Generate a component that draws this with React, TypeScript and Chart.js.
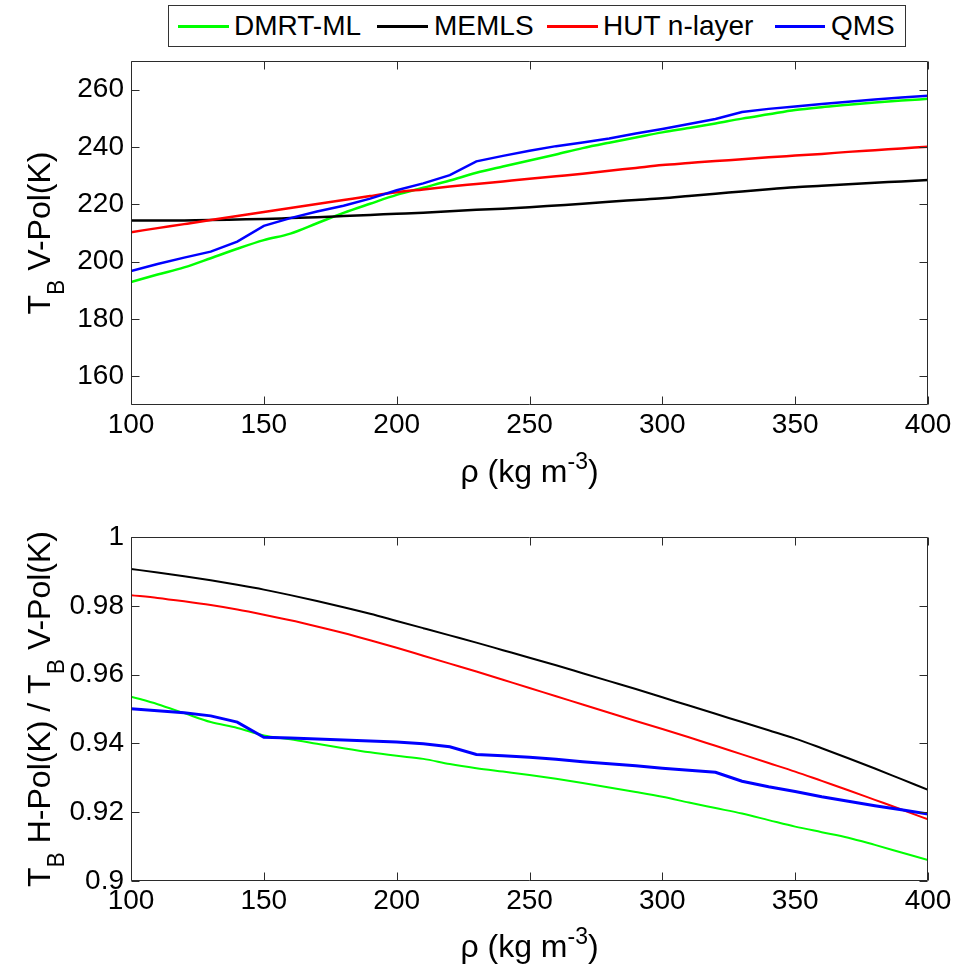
import React, { useEffect, useRef } from "react";
import { Chart, registerables } from "chart.js";

Chart.register(...registerables);

// ---------- data ----------
const rho = [100, 110, 120, 130, 140, 150, 160, 170, 180, 190, 200, 210, 220, 230, 240, 250, 260, 270, 280, 290, 300, 310, 320, 330, 340, 350, 360, 370, 380, 390, 400];

const seriesNames = ["DMRT-ML", "MEMLS", "HUT n-layer", "QMS"];
const seriesColors = ["#00ff00", "#000000", "#ff0000", "#0000ff"];

// Top panel: T_B V-pol (K)
const topDMRT = [192.9, 195.5, 198.0, 201.2, 204.5, 207.5, 209.8, 213.4, 217.0, 220.2, 223.3, 225.8, 228.3, 231.0, 233.2, 235.3, 237.4, 239.6, 241.5, 243.3, 245.1, 246.6, 248.2, 249.9, 251.4, 252.9, 253.9, 254.7, 255.5, 256.2, 256.8];
const topMEMLS = [214.4, 214.4, 214.4, 214.5, 214.7, 214.9, 215.2, 215.5, 215.9, 216.3, 216.7, 217.1, 217.6, 218.1, 218.5, 219.0, 219.6, 220.2, 220.9, 221.5, 222.1, 222.9, 223.7, 224.5, 225.3, 226.0, 226.5, 227.0, 227.5, 228.0, 228.5];
const topHUT = [210.3, 211.7, 213.1, 214.5, 215.9, 217.3, 218.7, 220.1, 221.5, 222.9, 224.2, 225.2, 226.2, 227.1, 228.0, 228.9, 229.8, 230.7, 231.7, 232.7, 233.7, 234.4, 235.1, 235.7, 236.4, 237.0, 237.6, 238.3, 238.9, 239.5, 240.1];
const topQMS = [196.7, 199.2, 201.4, 203.5, 207.0, 212.5, 215.2, 217.5, 219.5, 222.0, 224.9, 227.3, 230.2, 235.0, 236.9, 238.7, 240.3, 241.6, 243.0, 244.7, 246.3, 248.0, 249.8, 252.2, 253.3, 254.1, 255.0, 255.8, 256.6, 257.3, 257.9];

// Bottom panel: T_B H-pol / T_B V-pol
const botDMRT = [0.9536, 0.9514, 0.9488, 0.9462, 0.9445, 0.9423, 0.9412, 0.9399, 0.9386, 0.9374, 0.9364, 0.9355, 0.9340, 0.9328, 0.9318, 0.9308, 0.9297, 0.9285, 0.9272, 0.9259, 0.9245, 0.9228, 0.9212, 0.9196, 0.9177, 0.9158, 0.9142, 0.9126, 0.9105, 0.9083, 0.9061];
const botMEMLS = [0.9907, 0.9897, 0.9886, 0.9874, 0.9861, 0.9847, 0.9831, 0.9814, 0.9796, 0.9777, 0.9756, 0.9735, 0.9714, 0.9693, 0.9671, 0.9649, 0.9627, 0.9604, 0.9581, 0.9558, 0.9534, 0.9510, 0.9486, 0.9462, 0.9438, 0.9414, 0.9386, 0.9357, 0.9327, 0.9296, 0.9265];
const botHUT = [0.9831, 0.9823, 0.9813, 0.9802, 0.9789, 0.9774, 0.9758, 0.9740, 0.9721, 0.9700, 0.9678, 0.9655, 0.9632, 0.9609, 0.9585, 0.9561, 0.9537, 0.9513, 0.9489, 0.9465, 0.9442, 0.9418, 0.9393, 0.9368, 0.9343, 0.9318, 0.9291, 0.9264, 0.9236, 0.9208, 0.9179];
const botQMS = [0.9501, 0.9495, 0.9489, 0.9480, 0.9462, 0.9418, 0.9416, 0.9413, 0.9410, 0.9407, 0.9404, 0.9399, 0.9390, 0.9368, 0.9364, 0.9360, 0.9354, 0.9347, 0.9341, 0.9335, 0.9328, 0.9322, 0.9316, 0.9290, 0.9274, 0.9260, 0.9245, 0.9232, 0.9219, 0.9207, 0.9195];

const xTicks = [100, 150, 200, 250, 300, 350, 400];
const xTickLabels = ["100", "150", "200", "250", "300", "350", "400"];
const topYTicks = [160, 180, 200, 220, 240, 260];
const topYTickLabels = ["160", "180", "200", "220", "240", "260"];
const botYTicks = [0.9, 0.92, 0.94, 0.96, 0.98, 1];
const botYTickLabels = ["0.9", "0.92", "0.94", "0.96", "0.98", "1"];

const FONT = '"Liberation Sans", Arial, Helvetica, sans-serif';

type Run = { t: string; sub?: boolean; sup?: boolean };

const xTitleRuns: Run[] = [{ t: "\u03c1 (kg m" }, { t: "-3", sup: true }, { t: ")" }];
const topYTitleRuns: Run[] = [{ t: "T" }, { t: "B", sub: true }, { t: " V-Pol(K)" }];
const botYTitleRuns: Run[] = [
  { t: "T" }, { t: "B", sub: true }, { t: " H-Pol(K) / T" }, { t: "B", sub: true }, { t: " V-Pol(K)" },
];

function drawRuns(ctx: CanvasRenderingContext2D, runs: Run[], size: number, cx: number, cy: number, rotate: boolean) {
  const small = Math.round(size * 0.72);
  ctx.save();
  ctx.translate(cx, cy);
  if (rotate) ctx.rotate(-Math.PI / 2);
  ctx.fillStyle = "#000";
  ctx.textAlign = "left";
  ctx.textBaseline = "alphabetic";
  const widths = runs.map((r) => {
    ctx.font = `${r.sub || r.sup ? small : size}px ${FONT}`;
    return ctx.measureText(r.t).width;
  });
  const total = widths.reduce((a, b) => a + b, 0);
  let x = -total / 2;
  runs.forEach((r, i) => {
    ctx.font = `${r.sub || r.sup ? small : size}px ${FONT}`;
    const dy = r.sub ? size * 0.44 : r.sup ? -size * 0.42 : 0;
    ctx.fillText(r.t, x, dy);
    x += widths[i];
  });
  ctx.restore();
}

function makeFramePlugin(cfg: { yTicks: number[]; xTitleY: number; yTitleX: number; yTitle: Run[]; titleSize: number }) {
  return {
    id: "matlabFrame",
    afterDraw(chart: any) {
      const { ctx, chartArea: a, scales } = chart;
      const L = Math.round(a.left) + 0.5;
      const R = Math.round(a.right) - 0.5;
      const T = Math.round(a.top) + 0.5;
      const B = Math.round(a.bottom) - 0.5;
      ctx.save();
      ctx.strokeStyle = "#2b2b2b";
      ctx.lineWidth = 1;
      ctx.beginPath();
      ctx.rect(L, T, R - L, B - T);
      const tl = 8;
      xTicks.forEach((v) => {
        const px = Math.round(scales.x.getPixelForValue(v)) + 0.5;
        ctx.moveTo(px, B);
        ctx.lineTo(px, B - tl);
        ctx.moveTo(px, T);
        ctx.lineTo(px, T + tl);
      });
      cfg.yTicks.forEach((v) => {
        const py = Math.round(scales.y.getPixelForValue(v)) + 0.5;
        ctx.moveTo(L, py);
        ctx.lineTo(L + tl, py);
        ctx.moveTo(R, py);
        ctx.lineTo(R - tl, py);
      });
      ctx.stroke();
      ctx.restore();
      drawRuns(ctx, xTitleRuns, cfg.titleSize, (a.left + a.right) / 2, cfg.xTitleY, false);
      drawRuns(ctx, cfg.yTitle, cfg.titleSize, cfg.yTitleX, (a.top + a.bottom) / 2, true);
    },
  };
}

function makeDatasets(values: number[][], widths: number[]) {
  const orders = [4, 3, 2, 1];
  return values.map((arr, k) => ({
    label: seriesNames[k],
    data: rho.map((x, i) => ({ x, y: arr[i] })),
    borderColor: seriesColors[k],
    backgroundColor: seriesColors[k],
    borderWidth: widths[k],
    pointRadius: 0,
    tension: 0,
    cubicInterpolationMode: k === 3 ? "default" : "monotone",
    fill: false,
    order: orders[k],
  }));
}

function tickFont() {
  return { family: FONT, size: 28 };
}

function PanelChart(props: {
  top: number;
  height: number;
  areaTop: number;
  areaBottom: number;
  values: number[][];
  widths: number[];
  yMin: number;
  yMax: number;
  yTicks: number[];
  yTickLabels: string[];
  yTitle: Run[];
  xTitleY: number;
}) {
  const ref = useRef<HTMLCanvasElement | null>(null);
  useEffect(() => {
    const canvas = ref.current;
    if (!canvas) return;
    const W = 954;
    const areaLeft = 131;
    const areaRight = 928;
    const chart = new Chart(canvas, {
      type: "line",
      data: { datasets: makeDatasets(props.values, props.widths) as any },
      options: {
        responsive: false,
        animation: false,
        devicePixelRatio: 1,
        layout: { padding: { left: 0, right: W - areaRight, top: props.areaTop, bottom: 0 } },
        plugins: { legend: { display: false }, tooltip: { enabled: false } },
        scales: {
          x: {
            type: "linear",
            min: 100,
            max: 400,
            grid: { display: false, drawTicks: false },
            border: { display: false },
            afterBuildTicks: (s: any) => {
              s.ticks = xTicks.map((v) => ({ value: v }));
            },
            afterFit: (s: any) => {
              s.height = props.height - props.areaBottom;
              s.paddingLeft = 0;
              s.paddingRight = 0;
            },
            ticks: {
              autoSkip: false,
              maxRotation: 0,
              padding: 3,
              color: "#000",
              font: tickFont(),
              callback: (v: any) => {
                const i = xTicks.indexOf(Number(v));
                return i >= 0 ? xTickLabels[i] : "";
              },
            },
          },
          y: {
            type: "linear",
            min: props.yMin,
            max: props.yMax,
            grid: { display: false, drawTicks: false },
            border: { display: false },
            afterBuildTicks: (s: any) => {
              s.ticks = props.yTicks.map((v) => ({ value: v }));
            },
            afterFit: (s: any) => {
              s.width = areaLeft;
              s.paddingTop = 0;
              s.paddingBottom = 0;
            },
            ticks: {
              autoSkip: false,
              padding: 7,
              color: "#000",
              font: tickFont(),
              callback: (v: any) => {
                const i = props.yTicks.findIndex((t) => Math.abs(t - Number(v)) < 1e-9);
                return i >= 0 ? props.yTickLabels[i] : "";
              },
            },
          },
        },
      },
      plugins: [
        makeFramePlugin({
          yTicks: props.yTicks,
          xTitleY: props.xTitleY,
          yTitleX: 50,
          yTitle: props.yTitle,
          titleSize: 32,
        }),
      ],
    });
    return () => chart.destroy();
  }, []);
  return (
    <canvas
      ref={ref}
      width={954}
      height={props.height}
      style={{ position: "absolute", left: 0, top: props.top, width: 954, height: props.height }}
    />
  );
}

function Legend() {
  const items = [
    { line: [178, 229], text: 234 },
    { line: [377, 428], text: 434 },
    { line: [547, 598], text: 603 },
    { line: [775, 825], text: 831 },
  ];
  const boxLeft = 168;
  const boxTop = 5;
  return (
    <div
      style={{
        position: "absolute",
        left: boxLeft,
        top: boxTop,
        width: 738,
        height: 42,
        border: "1px solid #333",
        boxSizing: "border-box",
        background: "#fff",
        fontFamily: FONT,
        fontSize: 28,
      }}
    >
      {items.map((it, k) => (
        <React.Fragment key={seriesNames[k]}>
          <div
            style={{
              position: "absolute",
              left: it.line[0] - boxLeft - 1,
              top: 19,
              width: it.line[1] - it.line[0],
              height: 2.5,
              background: seriesColors[k],
            }}
          />
          <span
            style={{
              position: "absolute",
              left: it.text - boxLeft - 1,
              top: 0,
              lineHeight: "40px",
              whiteSpace: "nowrap",
              color: "#000",
            }}
          >
            {seriesNames[k]}
          </span>
        </React.Fragment>
      ))}
    </div>
  );
}

export default function App() {
  return (
    <div style={{ position: "absolute", left: 0, top: 0, width: 954, height: 966, background: "#fff" }}>
      <PanelChart
        top={0}
        height={490}
        areaTop={61}
        areaBottom={405}
        values={[topDMRT, topMEMLS, topHUT, topQMS]}
        widths={[2.5, 2.5, 2.5, 2.5]}
        yMin={150}
        yMax={270}
        yTicks={topYTicks}
        yTickLabels={topYTickLabels}
        yTitle={topYTitleRuns}
        xTitleY={482}
      />
      <PanelChart
        top={490}
        height={476}
        areaTop={47}
        areaBottom={391}
        values={[botDMRT, botMEMLS, botHUT, botQMS]}
        widths={[2, 2, 2, 3]}
        yMin={0.9}
        yMax={1}
        yTicks={botYTicks}
        yTickLabels={botYTickLabels}
        yTitle={botYTitleRuns}
        xTitleY={467}
      />
      <Legend />
    </div>
  );
}
